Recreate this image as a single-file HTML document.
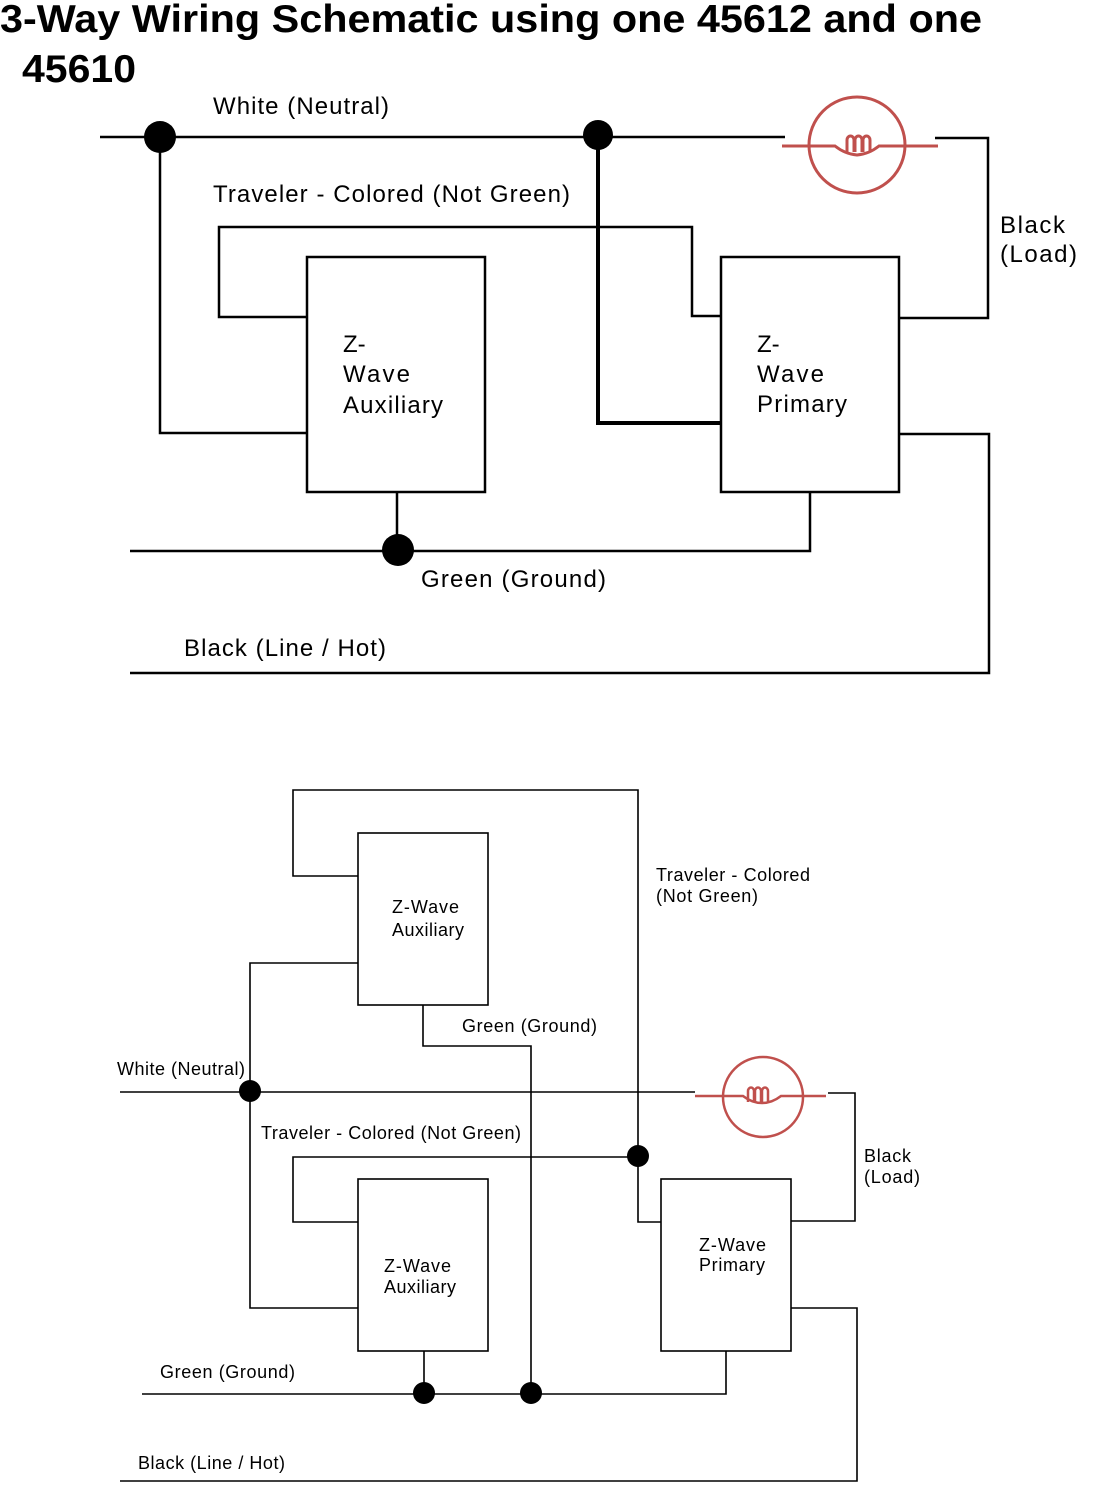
<!DOCTYPE html>
<html><head><meta charset="utf-8"><style>body{margin:0;background:#fff}svg{display:block}text{font-family:"Liberation Sans",Arial,sans-serif;fill:#000}</style></head><body>
<svg width="1110" height="1485" viewBox="0 0 1110 1485" xmlns="http://www.w3.org/2000/svg">
<text x="0" y="32" font-size="39" font-weight="bold" textLength="982" lengthAdjust="spacingAndGlyphs">3-Way Wiring Schematic using one 45612 and one</text>
<text x="22" y="82" font-size="39" font-weight="bold" textLength="114" lengthAdjust="spacingAndGlyphs">45610</text>
<g fill="none" stroke="#000" stroke-width="2.5">
<path d="M100 137H785"/>
<path d="M935 138H988V318H900"/>
<path d="M307 317H219V227H692V316H721"/>
<rect x="307" y="257" width="178" height="235"/>
<rect x="721" y="257" width="178" height="235"/>
<path d="M160 137V433H307"/>
<path d="M598 135V423H721" stroke-width="4"/>
<path d="M130 551H810V492M397 492V551"/>
<path d="M130 673H989V434H899"/>
</g>
<g fill="#000"><circle cx="160" cy="137" r="16"/><circle cx="598" cy="135" r="15"/><circle cx="398" cy="550" r="16"/></g>
<g fill="none" stroke="#c0504d" stroke-width="3">
<circle cx="857" cy="145" r="48"/>
<path d="M782 146H835Q845 154 857 155Q869 154 879 146H938"/>
<path d="M847 152V140a3.5 4 0 0 1 7 0V152M855 152V140a3.5 4 0 0 1 7 0V152M863 152V140a3.5 4 0 0 1 7 0V152"/>
</g>
<g font-size="24">
<text x="213" y="114" textLength="176">White (Neutral)</text>
<text x="213" y="202" textLength="357">Traveler - Colored (Not Green)</text>
<text x="1000" y="233" textLength="65">Black</text><text x="1000" y="262" textLength="77">(Load)</text>
<text x="343" y="352">Z-</text><text x="343" y="382" textLength="67">Wave</text><text x="343" y="413" textLength="100">Auxiliary</text>
<text x="757" y="352">Z-</text><text x="757" y="382" textLength="67">Wave</text><text x="757" y="412" textLength="90">Primary</text>
<text x="421" y="587" textLength="185">Green (Ground)</text>
<text x="184" y="656" textLength="202">Black (Line / Hot)</text>
</g>
<g fill="none" stroke="#000" stroke-width="1.6">
<path d="M358 876H293V790H638V1222H661"/>
<rect x="358" y="833" width="130" height="172"/>
<rect x="358" y="1179" width="130" height="172"/>
<rect x="661" y="1179" width="130" height="172"/>
<path d="M358 963H250V1308H358"/>
<path d="M120 1092H695"/>
<path d="M828 1093H855V1221H791"/>
<path d="M423 1005V1046H531V1394"/>
<path d="M358 1222H293V1157H638"/>
<path d="M142 1394H726V1351M424 1351V1394"/>
<path d="M120 1481H857V1308H791"/>
</g>
<g fill="#000"><circle cx="250" cy="1091" r="11"/><circle cx="638" cy="1156" r="11"/><circle cx="424" cy="1393" r="11"/><circle cx="531" cy="1393" r="11"/></g>
<g fill="none" stroke="#c0504d" stroke-width="2.5">
<circle cx="763" cy="1097" r="40"/>
<path d="M695 1096H743Q752 1103 762 1103Q772 1103 781 1096H826"/>
<path d="M748 1102V1091a3 3.5 0 0 1 6 0V1102M755 1102V1091a3 3.5 0 0 1 6 0V1102M762 1102V1091a3 3.5 0 0 1 6 0V1102"/>
</g>
<g font-size="18">
<text x="656" y="881" textLength="154">Traveler - Colored</text><text x="656" y="902" textLength="102">(Not Green)</text>
<text x="392" y="913" textLength="67">Z-Wave</text><text x="392" y="936" textLength="72">Auxiliary</text>
<text x="462" y="1032" textLength="135">Green (Ground)</text>
<text x="117" y="1075" textLength="128">White (Neutral)</text>
<text x="261" y="1139" textLength="260">Traveler - Colored (Not Green)</text>
<text x="864" y="1162" textLength="47">Black</text><text x="864" y="1183" textLength="56">(Load)</text>
<text x="384" y="1272" textLength="67">Z-Wave</text><text x="384" y="1293" textLength="72">Auxiliary</text>
<text x="699" y="1251" textLength="67">Z-Wave</text><text x="699" y="1271" textLength="66">Primary</text>
<text x="160" y="1378" textLength="135">Green (Ground)</text>
<text x="138" y="1469" textLength="147">Black (Line / Hot)</text>
</g>
</svg>
</body></html>
